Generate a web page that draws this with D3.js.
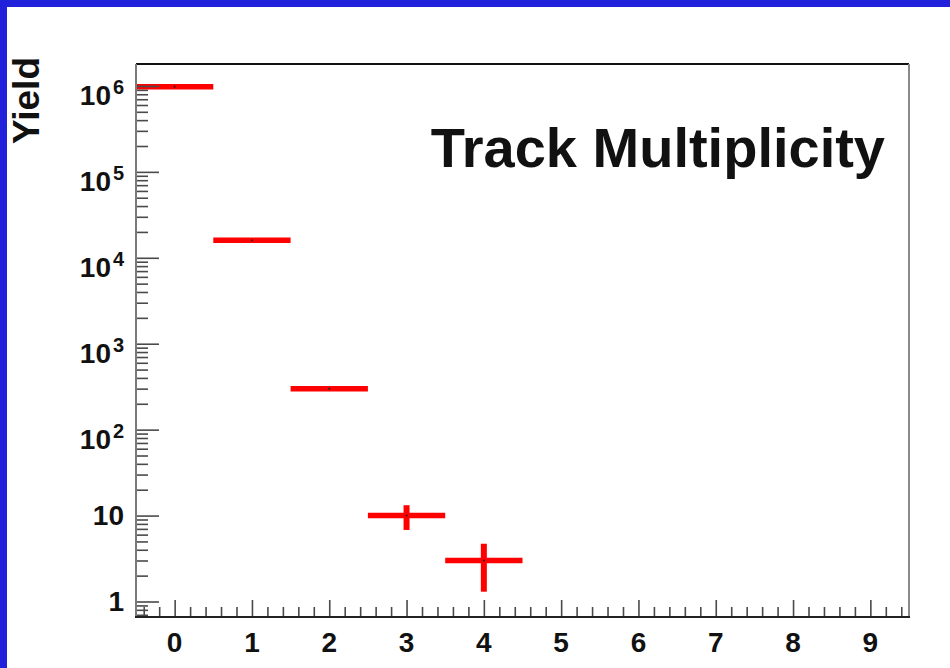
<!DOCTYPE html>
<html lang="en">
<head>
<meta charset="UTF-8">
<title>Track Multiplicity</title>
<script src="https://d3js.org/d3.v7.min.js"></script>
<style>
  body { margin: 0; background: #fff; }
  svg { display: block; font-family: "Liberation Sans", Arial, sans-serif; }
  .tick line { stroke: #4a4a4a; stroke-width: 1.6; }
  .lbl { font-weight: bold; fill: #111; }
</style>
</head>
<body>
<div id="chart"></div>
<script>
// data
const bins = [0, 1, 2, 3, 4];
const counts = [980000, 16000, 300, 10, 3];
const errors = [990, 126, 17, 3.2, 1.7];

// axis tick values and labels
const xMajor = [0, 1, 2, 3, 4, 5, 6, 7, 8, 9];
const yMajor = [1, 10, 100, 1e3, 1e4, 1e5, 1e6];
const yBase = ["1", "10", "10", "10", "10", "10", "10"];
const yExp = ["", "", "2", "3", "4", "5", "6"];

const W = 950, H = 668;
const plotL = 136, plotR = 909, plotT = 64, plotB = 617;

const svg = d3.select("#chart").append("svg")
  .attr("width", W).attr("height", H);

// blue slide border
svg.append("rect").attr("x", 0).attr("y", 0).attr("width", W).attr("height", 7).attr("fill", "#2121dc");
svg.append("rect").attr("x", 0).attr("y", 0).attr("width", 7).attr("height", H).attr("fill", "#2121dc");

const x = d3.scaleLinear().domain([-0.5, 9.5]).range([plotL, plotR]);
const y = d3.scaleLog().domain([0.66, 1.8e6]).range([plotB, plotT]);

// data: horizontal bin width + vertical error bars
const pts = bins.map((b, i) => ({ b, v: counts[i], e: errors[i] }));
const g = svg.append("g");
g.selectAll(".hbar").data(pts).enter().append("line")
  .attr("x1", d => x(d.b - 0.5)).attr("x2", d => x(d.b + 0.5))
  .attr("y1", d => y(d.v)).attr("y2", d => y(d.v))
  .attr("stroke", "#ff0000").attr("stroke-width", 5.5);
g.selectAll(".vbar").data(pts).enter().append("line")
  .attr("x1", d => x(d.b)).attr("x2", d => x(d.b))
  .attr("y1", d => y(d.v + d.e)).attr("y2", d => y(Math.max(d.v - d.e, 0.7)))
  .attr("stroke", "#ff0000").attr("stroke-width", 6);
g.selectAll(".dot").data(pts).enter().append("circle")
  .attr("cx", d => x(d.b)).attr("cy", d => y(d.v)).attr("r", 1)
  .attr("fill", "#222");

// minor tick positions
const xMinor = d3.range(-0.4, 9.5, 0.2).filter(v => Math.abs(v - Math.round(v)) > 0.05);
const yMinor = [];
for (let k = -1; k <= 6; k++) {
  for (let m = 2; m <= 9; m++) {
    const v = m * Math.pow(10, k);
    if (v > 0.66 && v < 1.8e6) yMinor.push(v);
  }
}

// bottom axis ticks (pointing up)
svg.append("g").attr("transform", `translate(0,${plotB})`)
  .call(d3.axisBottom(x).tickValues(xMajor).tickSizeInner(-17).tickSizeOuter(0).tickFormat(""))
  .call(a => a.select(".domain").remove());
svg.append("g").attr("transform", `translate(0,${plotB})`)
  .call(d3.axisBottom(x).tickValues(xMinor).tickSizeInner(-10).tickSizeOuter(0).tickFormat(""))
  .call(a => a.select(".domain").remove());

// left axis ticks (pointing right)
svg.append("g").attr("transform", `translate(${plotL},0)`)
  .call(d3.axisLeft(y).tickValues(yMajor).tickSizeInner(-23).tickSizeOuter(0).tickFormat(""))
  .call(a => a.select(".domain").remove());
svg.append("g").attr("transform", `translate(${plotL},0)`)
  .call(d3.axisLeft(y).tickValues(yMinor).tickSizeInner(-12).tickSizeOuter(0).tickFormat(""))
  .call(a => a.select(".domain").remove());

// frame
svg.append("line").attr("x1", plotL).attr("x2", plotR).attr("y1", plotT).attr("y2", plotT)
  .attr("stroke", "#111").attr("stroke-width", 2);
svg.append("line").attr("x1", plotR).attr("x2", plotR).attr("y1", plotT).attr("y2", plotB)
  .attr("stroke", "#8a8a8a").attr("stroke-width", 2);
svg.append("line").attr("x1", plotL).attr("x2", plotL).attr("y1", plotT).attr("y2", plotB)
  .attr("stroke", "#7a7a7a").attr("stroke-width", 2);
svg.append("line").attr("x1", plotL - 1).attr("x2", plotR + 1).attr("y1", plotB).attr("y2", plotB)
  .attr("stroke", "#222").attr("stroke-width", 2);

// x tick labels
svg.selectAll(".xl").data(xMajor).enter().append("text")
  .attr("class", "lbl")
  .attr("x", d => x(d)).attr("y", 652)
  .attr("text-anchor", "middle").attr("font-size", 28)
  .text(d => d);

// y tick labels, powers of ten with superscripts
yMajor.forEach((v, i) => {
  const yy = y(v);
  if (yExp[i] === "") {
    svg.append("text").attr("class", "lbl")
      .attr("x", 124).attr("y", yy + 9.5)
      .attr("text-anchor", "end").attr("font-size", 28)
      .text(yBase[i]);
  } else {
    svg.append("text").attr("class", "lbl")
      .attr("x", 111).attr("y", yy + 19)
      .attr("text-anchor", "end").attr("font-size", 28)
      .text(yBase[i]);
    svg.append("text").attr("class", "lbl")
      .attr("x", 113).attr("y", yy + 8)
      .attr("font-size", 20)
      .text(yExp[i]);
  }
});

// axis title
svg.append("text").attr("class", "lbl")
  .attr("transform", "translate(39,57) rotate(-90)")
  .attr("text-anchor", "end").attr("font-size", 37)
  .text("Yield");

// plot title
svg.append("text").attr("class", "lbl")
  .attr("x", 885).attr("y", 167)
  .attr("text-anchor", "end").attr("font-size", 56)
  .text("Track Multiplicity");
</script>
</body>
</html>
